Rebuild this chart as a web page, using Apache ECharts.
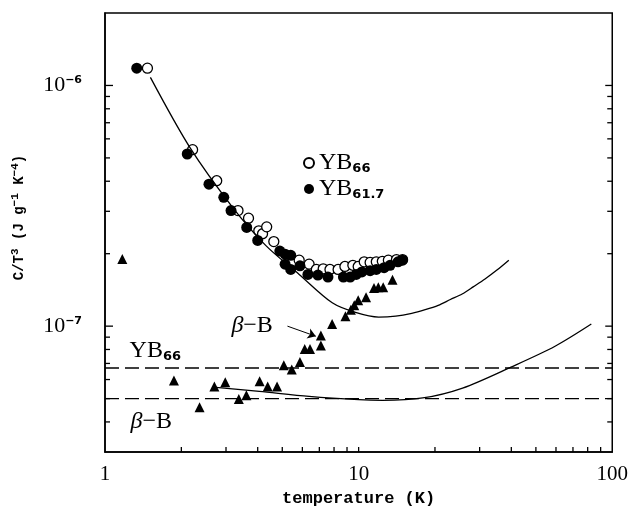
<!DOCTYPE html>
<html><head><meta charset="utf-8">
<script src="https://cdn.jsdelivr.net/npm/echarts@6/dist/echarts.min.js"></script>
<style>html,body{margin:0;padding:0;background:#fff}#c{width:631px;height:512px;background:#fff}</style>
</head><body><div id="c"></div>
<script>
// YB66 open circles
const openT = [1.47, 2.215, 2.757, 3.345, 3.68, 4.04, 4.18, 4.34, 4.63, 5.83, 6.38, 6.81, 7.25, 7.71, 8.30, 8.83, 9.49, 9.96, 10.52, 11.1, 11.74, 12.4, 13.1, 14.1, 14.9];
const openC = [1.18e-6, 5.41e-7, 4.02e-7, 3.02e-7, 2.81e-7, 2.49e-7, 2.42e-7, 2.585e-7, 2.245e-7, 1.88e-7, 1.81e-7, 1.72e-7, 1.73e-7, 1.72e-7, 1.72e-7, 1.77e-7, 1.79e-7, 1.77e-7, 1.85e-7, 1.84e-7, 1.85e-7, 1.86e-7, 1.88e-7, 1.89e-7, 1.89e-7];
// YB61.7 filled circles
const fillT = [1.334, 2.11, 2.57, 2.94, 3.14, 3.62, 4.0, 4.89, 5.13, 5.40, 5.13, 5.40, 5.87, 6.31, 6.91, 7.57, 8.71, 9.26, 9.78, 10.3, 11.1, 11.74, 12.6, 13.3, 14.3, 14.9];
const fillC = [1.18e-6, 5.19e-7, 3.89e-7, 3.43e-7, 3.02e-7, 2.57e-7, 2.27e-7, 2.05e-7, 1.99e-7, 1.97e-7, 1.81e-7, 1.72e-7, 1.78e-7, 1.64e-7, 1.63e-7, 1.60e-7, 1.60e-7, 1.60e-7, 1.64e-7, 1.68e-7, 1.70e-7, 1.72e-7, 1.75e-7, 1.79e-7, 1.85e-7, 1.88e-7];
// beta-B triangles
const triT = [1.17, 1.87, 2.36, 2.70, 2.98, 3.37, 3.61, 4.07, 4.38, 4.77, 5.07, 5.45, 5.87, 6.13, 6.43, 7.10, 7.10, 7.86, 8.87, 9.32, 9.61, 9.96, 10.7, 11.5, 11.96, 12.5, 13.6];
const triC = [1.90e-7, 5.94e-8, 4.60e-8, 5.62e-8, 5.84e-8, 4.98e-8, 5.16e-8, 5.90e-8, 5.62e-8, 5.62e-8, 6.88e-8, 6.61e-8, 7.10e-8, 8.04e-8, 8.04e-8, 8.31e-8, 9.14e-8, 1.02e-7, 1.10e-7, 1.17e-7, 1.22e-7, 1.28e-7, 1.32e-7, 1.44e-7, 1.45e-7, 1.45e-7, 1.56e-7];
// fit curves
const fitYBT = [1.51, 2.16, 3.19, 4.31, 5.83, 7.87, 9.72, 12.0, 14.0, 16.2, 18.3, 20.6, 23.0, 25.6, 28.4, 31.5, 35.1, 39.1];
const fitYBC = [1.08e-6, 5.53e-7, 3.11e-7, 2.16e-7, 1.64e-7, 1.25e-7, 1.14e-7, 1.09e-7, 1.10e-7, 1.13e-7, 1.17e-7, 1.22e-7, 1.29e-7, 1.36e-7, 1.46e-7, 1.57e-7, 1.71e-7, 1.88e-7];
const fitBT = [2.74, 4.06, 6.38, 10.0, 12.4, 17.9, 25.7, 39.9, 59.5, 82.7];
const fitBC = [5.57e-8, 5.36e-8, 5.11e-8, 4.95e-8, 4.92e-8, 5.03e-8, 5.53e-8, 6.76e-8, 8.25e-8, 1.02e-7];
// dashed reference levels
const dashT = [1, 100];
const dashYB = 6.7e-8;
const dashB = 5.0e-8;
// axis ranges and ticks
const xRange = [1, 100];
const yRange = [3e-8, 2e-6];
const xLabelVals = [1, 10, 100];
const xTickVals = [2, 3, 4, 5, 6, 7, 8, 9, 10, 20, 30, 40, 50, 60, 70, 80, 90];
const yMajorVals = [1e-7, 1e-6];
const yMinorVals = [4e-8, 5e-8, 6e-8, 7e-8, 8e-8, 9e-8, 2e-7, 3e-7, 4e-7, 5e-7, 6e-7, 7e-7, 8e-7, 9e-7];
// annotations
const annText = ['YB{s|66}', '{b|β}−B', '{b|β}−B'];
const annT = [1.25, 1.26, 3.15];
const annC = [7.87e-8, 4.02e-8, 1.0e-7];
const arrowFrom = [5.24, 1.0e-7];
const arrowTo = [6.78, 9.08e-8];

const zip = (a, b) => a.map((v, i) => [v, b[i]]);
const serif = 'Liberation Serif';
const subStyle = { fontFamily: 'DejaVu Sans', fontWeight: 'bold', fontSize: 13, lineHeight: 14, verticalAlign: 'bottom', color: '#000' };

const chart = echarts.init(document.getElementById('c'), null, { renderer: 'canvas' });
const axLine = () => ({ show: true, onZero: false, lineStyle: { color: '#000', width: 1.5 } });

chart.setOption({
  animation: false,
  grid: { left: 105, right: 16, top: 13, bottom: 60, show: true, borderColor: '#000', borderWidth: 1.5, backgroundColor: 'transparent' },
  xAxis: [{
    type: 'log', min: xRange[0], max: xRange[1], position: 'bottom',
    splitLine: { show: false }, axisLine: axLine(), axisTick: { show: false },
    axisLabel: { customValues: xLabelVals, fontFamily: serif, fontSize: 21, color: '#000', margin: 12,
      formatter: v => String(Math.round(v)) },
    name: 'temperature (K)', nameLocation: 'middle', nameGap: 35,
    nameTextStyle: { fontFamily: 'Liberation Mono', fontWeight: 'bold', fontSize: 17, color: '#000' }
  }],
  yAxis: [{
    type: 'log', min: yRange[0], max: yRange[1], position: 'left',
    splitLine: { show: false }, axisLine: axLine(), axisTick: { show: false },
    axisLabel: { customValues: yMajorVals, fontFamily: serif, fontSize: 22, color: '#000', margin: 23,
      formatter: v => '10{e|−' + Math.round(-Math.log10(v)) + '}',
      rich: { e: { fontFamily: 'DejaVu Sans', fontWeight: 'bold', fontSize: 11, lineHeight: 16, verticalAlign: 'top', color: '#000' } } },
    name: 'C/T{p|3} (J g{p|−1} K{p|−4})', nameLocation: 'middle', nameGap: 77,
    nameTextStyle: { fontFamily: 'Liberation Mono', fontWeight: 'bold', fontSize: 14, lineHeight: 18, color: '#000', padding: [0, 0, 0, 30],
      rich: { p: { fontFamily: 'Liberation Mono', fontWeight: 'bold', fontSize: 11, lineHeight: 11, verticalAlign: 'top', color: '#000' } } }
  }],
  legend: {
    data: ['YB66', 'YB61.7'], orient: 'vertical', left: 298, top: 146, itemGap: 2,
    itemWidth: 10, itemHeight: 10,
    formatter: n => n === 'YB66' ? 'YB{s|66}' : 'YB{s|61.7}',
    textStyle: { fontFamily: serif, fontSize: 24, lineHeight: 24, color: '#000', rich: { s: subStyle } }
  },
  series: [
    { name: 'dashYB', type: 'line', data: zip(dashT, dashT.map(() => dashYB)), showSymbol: false, silent: true,
      lineStyle: { color: '#000', width: 1.4, type: [14, 6] } },
    { name: 'dashB', type: 'line', data: zip(dashT, dashT.map(() => dashB)), showSymbol: false, silent: true,
      lineStyle: { color: '#000', width: 1.4, type: [14, 6] } },
    { name: 'fitYB', type: 'line', data: zip(fitYBT, fitYBC), smooth: 0.3, showSymbol: false,
      lineStyle: { color: '#000', width: 1.3 } },
    { name: 'fitB', type: 'line', data: zip(fitBT, fitBC), smooth: 0.3, showSymbol: false,
      lineStyle: { color: '#000', width: 1.3 } },
    { name: 'YB66', type: 'scatter', data: zip(openT, openC), symbol: 'circle', symbolSize: 10,
      itemStyle: { color: '#fff', borderColor: '#000', borderWidth: 1.3, opacity: 1 } },
    { name: 'YB61.7', type: 'scatter', data: zip(fillT, fillC), symbol: 'circle', symbolSize: 11,
      itemStyle: { color: '#000', borderColor: '#000', borderWidth: 0, opacity: 1 } },
    { name: 'beta-B', type: 'scatter', data: zip(triT, triC), symbol: 'triangle', symbolSize: 10,
      itemStyle: { color: '#000', opacity: 1 } },
    { name: 'annotations', type: 'scatter', symbolSize: 0, silent: true, itemStyle: { opacity: 1 },
      data: annText.map((t, i) => ({ name: t, value: [annT[i], annC[i]] })),
      label: { show: true, position: 'right', distance: 0, formatter: p => p.name,
        fontFamily: serif, fontSize: 24, lineHeight: 24, color: '#000', opacity: 1,
        rich: { s: subStyle, b: { fontFamily: serif, fontStyle: 'italic', fontSize: 24, lineHeight: 24, color: '#000' } } },
      markLine: { silent: true, symbol: ['none', 'arrow'], symbolSize: 8, label: { show: false },
        lineStyle: { color: '#000', width: 1, type: 'solid', opacity: 1 },
        data: [[{ coord: arrowFrom }, { coord: arrowTo }]] } }
  ]
});

// Frame ticks, positioned through the chart's own log scales
const px = v => chart.convertToPixel({ xAxisIndex: 0 }, v);
const py = v => chart.convertToPixel({ yAxisIndex: 0 }, v);
const xL = px(xRange[0]), xR = px(xRange[1]), yB = py(yRange[0]);
const seg = (x1, y1, x2, y2) => ({ type: 'line', silent: true, z: 50,
  shape: { x1: x1, y1: y1, x2: x2, y2: y2 }, style: { stroke: '#000', lineWidth: 1.3 } });
const els = [];
xTickVals.forEach(v => { const x = px(v); els.push(seg(x, yB, x, yB - 5)); });
yMajorVals.forEach(v => { const y = py(v); els.push(seg(xL, y, xL + 8, y)); els.push(seg(xR, y, xR - 7, y)); });
yMinorVals.forEach(v => { const y = py(v); els.push(seg(xL, y, xL + 5, y)); els.push(seg(xR, y, xR - 5, y)); });
chart.setOption({ graphic: { elements: els } });
</script></body></html>
